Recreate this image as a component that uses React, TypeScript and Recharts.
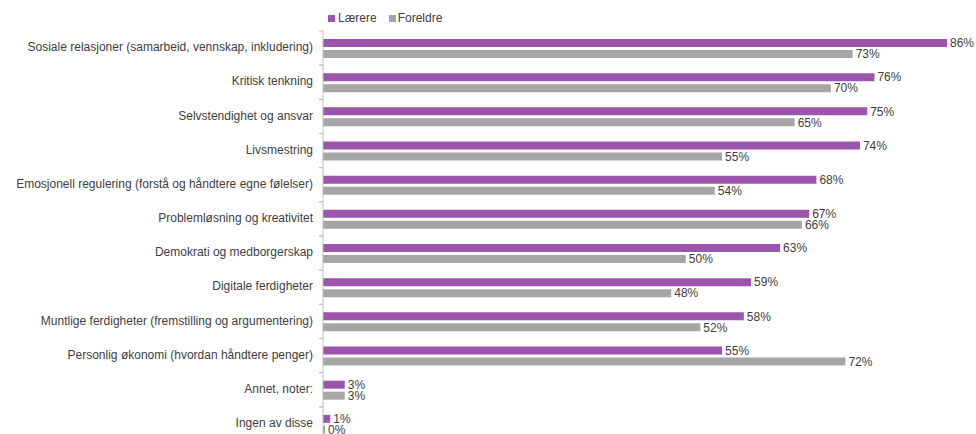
import { Bar, BarChart, LabelList, XAxis, YAxis } from 'recharts'

const categories = [
  'Sosiale relasjoner (samarbeid, vennskap, inkludering)',
  'Kritisk tenkning',
  'Selvstendighet og ansvar',
  'Livsmestring',
  'Emosjonell regulering (forstå og håndtere egne følelser)',
  'Problemløsning og kreativitet',
  'Demokrati og medborgerskap',
  'Digitale ferdigheter',
  'Muntlige ferdigheter (fremstilling og argumentering)',
  'Personlig økonomi (hvordan håndtere penger)',
  'Annet, noter:',
  'Ingen av disse',
]

const laerere = [86, 76, 75, 74, 68, 67, 63, 59, 58, 55, 3, 1]
const foreldre = [73, 70, 65, 55, 54, 66, 50, 48, 52, 72, 3, 0]

const data = categories.map((name, i) => ({
  name,
  laerere: laerere[i],
  foreldre: foreldre[i],
}))

const PURPLE = '#9B55AD'
const GRAY = '#A6A6A6'
const TEXT = '#404040'
const AXIS = '#BFBFBF'

const WIDTH = 968
const HEIGHT = 437
const MARGIN = { top: 23, right: 29, left: 0, bottom: 4 }
const AXIS_W = 315
const BAND = (HEIGHT - MARGIN.top - MARGIN.bottom) / categories.length

const CategoryTick = (props: any) => {
  const { x, y, payload } = props
  return (
    <g>
      <text x={x - 2} y={y - 1} dy="0.35em" textAnchor="end" fill={TEXT} fontSize={12}>
        {payload.value}
      </text>
      <line x1={AXIS_W - 4} x2={AXIS_W} y1={y - BAND / 2} y2={y - BAND / 2} stroke={AXIS} />
      <line x1={AXIS_W - 4} x2={AXIS_W} y1={y + BAND / 2} y2={y + BAND / 2} stroke={AXIS} />
    </g>
  )
}

const pct = (v: any) => `${v}%`

export default function App() {
  return (
    <div
      style={{
        position: 'relative',
        width: 976,
        height: 434,
        overflow: 'hidden',
        fontFamily: '"Liberation Sans", Arial, sans-serif',
      }}
    >
      <style>{'body { margin: 0; }'}</style>
      <div
        style={{
          position: 'absolute',
          left: 328,
          top: 11,
          display: 'flex',
          alignItems: 'center',
          fontSize: 12,
          color: TEXT,
          zIndex: 1,
        }}
      >
        <span style={{ width: 7, height: 7, background: PURPLE, marginRight: 3 }} />
        <span style={{ marginRight: 12 }}>Lærere</span>
        <span style={{ width: 7, height: 7, background: GRAY, marginRight: 2 }} />
        <span>Foreldre</span>
      </div>
      <div style={{ position: 'absolute', left: 8, top: 8 }}>
        <BarChart
          width={WIDTH}
          height={HEIGHT}
          data={data}
          layout="vertical"
          margin={MARGIN}
          barSize={8}
          barGap={3}
        >
          <XAxis type="number" domain={[0, 86]} hide />
          <YAxis
            type="category"
            dataKey="name"
            width={AXIS_W}
            axisLine={{ stroke: AXIS }}
            tickLine={false}
            tick={<CategoryTick />}
            interval={0}
          />
          <Bar dataKey="laerere" name="Lærere" fill={PURPLE} minPointSize={2} isAnimationActive={false}>
            <LabelList dataKey="laerere" position="right" offset={3} formatter={pct} fill={TEXT} fontSize={12} />
          </Bar>
          <Bar dataKey="foreldre" name="Foreldre" fill={GRAY} minPointSize={2} isAnimationActive={false}>
            <LabelList dataKey="foreldre" position="right" offset={3} formatter={pct} fill={TEXT} fontSize={12} />
          </Bar>
        </BarChart>
      </div>
    </div>
  )
}
